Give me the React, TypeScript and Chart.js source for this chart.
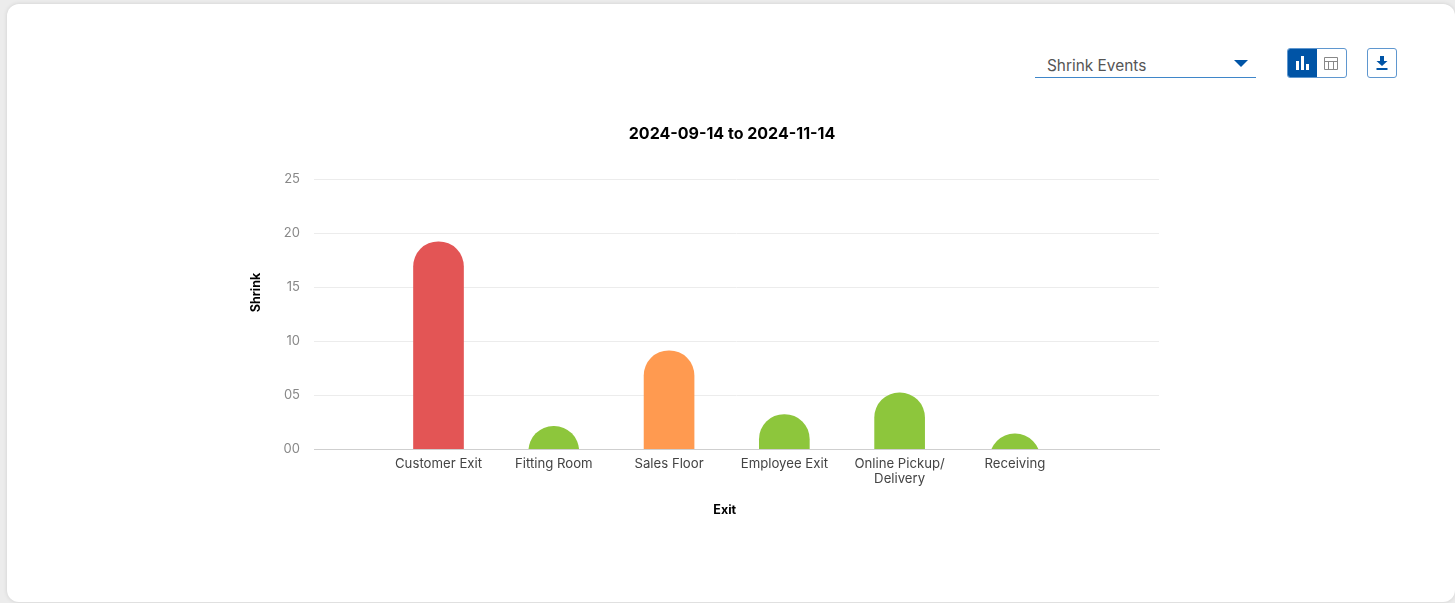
import React, { useEffect, useRef } from "react";
import { Chart, registerables } from "chart.js";

Chart.register(...registerables);

const categories = ["Customer Exit", "Fitting Room", "Sales Floor", "Employee Exit", ["Online Pickup/", "Delivery"], "Receiving"];
const shrinkValues = [19.2, 2.1, 9.1, 3.2, 5.2, 1.4];
const barColors = ["#e35555", "#8dc63c", "#ff9a50", "#8dc63c", "#8dc63c", "#8dc63c"];
const yTickLabels = ["00", "05", "10", "15", "20", "25"];
const chartTitle = "2024-09-14 to 2024-11-14";
const xAxisTitle = "Exit";
const yAxisTitle = "Shrink";
const FONT = "Inter, 'Noto Sans', sans-serif";

const axisTitles = {
  id: "axisTitles",
  afterDraw(chart: any) {
    const { ctx, scales } = chart;
    ctx.save();
    ctx.fillStyle = "#000";
    ctx.font = `700 12.5px ${FONT}`;
    ctx.textAlign = "center";
    ctx.textBaseline = "middle";
    ctx.fillText(xAxisTitle, scales.x.getPixelForValue(2.5) - 2, scales.x.top + 61);
    ctx.translate(scales.y.left + 16.5, scales.y.getPixelForValue(14.5));
    ctx.rotate(-Math.PI / 2);
    ctx.fillText(yAxisTitle, 0, 0);
    ctx.restore();
  },
};

function ChartCanvas() {
  const ref = useRef<HTMLCanvasElement>(null);
  useEffect(() => {
    const chart = new Chart(ref.current!, {
      type: "bar",
      data: {
        datasets: [
          {
            data: shrinkValues.map((y, x) => ({ x, y })),
            backgroundColor: barColors,
            barThickness: 50,
            base: -5,
            borderRadius: { topLeft: 25, topRight: 25, bottomLeft: 0, bottomRight: 0 },
            borderSkipped: "start",
          } as any,
        ],
      },
      plugins: [axisTitles],
      options: {
        animation: false,
        responsive: false,
        plugins: {
          legend: { display: false },
          tooltip: { enabled: false },
          title: {
            display: true,
            text: chartTitle,
            color: "#000",
            font: { family: FONT, size: 16, weight: "bold" },
            padding: { top: 15, bottom: 35 },
          },
        },
        scales: {
          x: {
            type: "linear",
            offset: false,
            bounds: "data",
            min: -1.08,
            max: 6.25,
            afterBuildTicks: (s: any) => {
              s.ticks = categories.map((_, value) => ({ value }));
            },
            afterFit: (s: any) => {
              s.height = 91;
            },
            grid: { display: false, drawTicks: false },
            border: { color: "#cfcfcf", width: 1 },
            ticks: {
              autoSkip: false,
              maxRotation: 0,
              minRotation: 0,
              padding: 7,
              color: "#444",
              font: { family: FONT, size: 13.2, lineHeight: 1.15 },
              callback: (v: any) => categories[v] as any,
            },
          },
          y: {
            min: 0,
            max: 25,
            afterFit: (s: any) => {
              s.width = 74;
            },
            grid: { color: "#ececec", drawTicks: false },
            border: { display: false },
            ticks: {
              stepSize: 5,
              padding: 14,
              color: "#888",
              font: { family: FONT, size: 13 },
              callback: (v: any) => yTickLabels[v / 5],
            },
          },
          gutter: {
            position: "right",
            display: true,
            afterFit: (s: any) => {
              s.width = 65;
            },
            grid: { display: false, drawTicks: false },
            border: { display: false },
            ticks: { display: false },
          },
        },
      },
    } as any);
    return () => chart.destroy();
  }, []);
  return <canvas ref={ref} width={984} height={430} style={{ position: "absolute", left: 240, top: 110, width: 984, height: 430 }} />;
}

export default function App() {
  useEffect(() => {
    document.body.style.margin = "0";
    document.body.style.overflow = "hidden";
  }, []);
  const blue = "#0054a6";
  const edge = "#5f97cf";
  return (
    <div style={{ position: "relative", width: 1455, height: 603, overflow: "hidden", background: "#ececec", fontFamily: FONT }}>
      <div style={{ position: "absolute", left: 7, top: 4, width: 1448, height: 598, background: "#fff", borderRadius: 12, boxShadow: "0 0 4px rgba(0,0,0,.12)" }} />
      <ChartCanvas />
      <div style={{ position: "absolute", left: 1035, top: 52, width: 221, height: 25, borderBottom: "1px solid #3f86c9", boxSizing: "content-box" }}>
        <span style={{ position: "absolute", left: 12, top: 4, fontSize: 15.4, color: "#555" }}>Shrink Events</span>
        <svg width="14" height="8" style={{ position: "absolute", left: 199, top: 8 }}>
          <path d="M0 0H14L7 7Z" fill={blue} />
        </svg>
      </div>
      <div style={{ position: "absolute", left: 1287, top: 48, width: 60, height: 30, boxSizing: "border-box", border: `1.5px solid ${edge}`, borderRadius: 3, overflow: "hidden", display: "flex" }}>
        <div style={{ width: 29, background: blue }}>
          <svg width="29" height="28">
            <rect x="8" y="12" width="3" height="9" fill="#fff" />
            <rect x="13" y="7" width="3" height="14" fill="#fff" />
            <rect x="18" y="15" width="3" height="6" fill="#fff" />
          </svg>
        </div>
        <svg width="29" height="28">
          <path d="M7.5 8.5H20.5V20.5H7.5ZM7.5 12.5H20.5M11.5 12.5V20.5M16.5 12.5V20.5" fill="none" stroke="#888" strokeWidth="1" />
        </svg>
      </div>
      <div style={{ position: "absolute", left: 1367, top: 48, width: 30, height: 30, boxSizing: "border-box", border: `1.5px solid ${edge}`, borderRadius: 3 }}>
        <svg width="27" height="27">
          <path d="M12 7H16V12H19.5L14 17L8.5 12H12Z" fill={blue} />
          <rect x="8.5" y="19" width="11" height="2" fill={blue} />
        </svg>
      </div>
    </div>
  );
}
